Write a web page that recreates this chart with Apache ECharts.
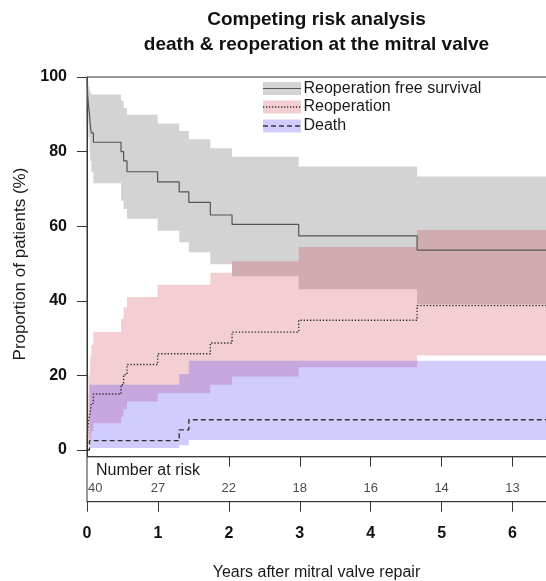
<!DOCTYPE html>
<html>
<head>
<meta charset="utf-8">
<script src="https://cdn.jsdelivr.net/npm/echarts@6/dist/echarts.min.js"></script>
<style>
  html, body { margin: 0; padding: 0; background: #fff; }
  #chart { width: 546px; height: 581px; }
</style>
</head>
<body>
<div id="chart"></div>
<script>
// Follow-up times (years) at which any of the estimates changes
var years = [0, 0.004, 0.01, 0.02, 0.035, 0.045, 0.06, 0.09, 0.48, 0.516, 0.564, 0.996, 1.30, 1.436, 1.739, 2.045, 2.985, 4.654, 6.5];

// Reoperation free survival (%) with confidence band
var survival   = [100, 97.5, 95, 92.5, 90, 87.5, 85, 82.5, 80, 77.5, 74.6, 71.9, 69.2, 66.4, 63.0, 60.5, 57.4, 53.6, 53.6];
var survivalHi = [100, 100, 99, 97.5, 96.5, 95.8, 95.3, 95.3, 93.6, 91.7, 89.9, 87.5, 85.5, 83.3, 80.9, 78.6, 76.0, 73.3, 73.3];
var survivalLo = [100, 92, 88, 84, 80, 77.5, 74.5, 71.5, 66.8, 64.6, 62.0, 58.8, 55.7, 53.0, 49.8, 46.6, 43.1, 39.0, 39.0];

// Cumulative incidence of reoperation (%)
var reop   = [0, 2.5, 5, 7.5, 7.5, 10, 12.5, 15, 17.5, 20.2, 22.9, 25.8, 25.8, 25.8, 28.7, 31.6, 34.8, 38.7, 38.7];
var reopHi = [0, 9, 15, 20, 21, 25, 28.2, 31.6, 35.2, 38.3, 41.0, 44.3, 44.3, 44.3, 47.5, 50.6, 54.4, 59.0, 59.0];
var reopLo = [0, 0.3, 0.8, 1.8, 1.8, 3.0, 5.0, 7.2, 9.0, 10.9, 13.0, 15.2, 15.2, 15.2, 17.5, 19.7, 22.2, 25.3, 25.3];

// Cumulative incidence of death (%)
var death   = [0, 0, 0, 0, 2.5, 2.5, 2.5, 2.5, 2.5, 2.5, 2.5, 2.5, 5.4, 8.1, 8.1, 8.1, 8.1, 8.1, 8.1];
var deathHi = [0, 0, 0, 0, 17.5, 17.5, 17.5, 17.5, 17.5, 17.5, 17.5, 17.5, 20.4, 23.9, 23.9, 23.9, 23.9, 23.9, 23.9];
var deathLo = [0, 0, 0, 0, 0.5, 0.5, 0.5, 0.5, 0.5, 0.5, 0.5, 0.5, 1.3, 2.7, 2.7, 2.7, 2.7, 2.7, 2.7];

// Number at risk table
var riskYears  = [0, 1, 2, 3, 4, 5, 6];
var riskCounts = [40, 27, 22, 18, 16, 14, 13];

// Axis ticks
var yTicks = [0, 20, 40, 60, 80, 100];
var xTicks = [0, 1, 2, 3, 4, 5, 6];
var riskInnerTicks = [2, 3, 4, 5, 6];

var FONT = '"Liberation Sans", Arial, Helvetica, sans-serif';
var GRAY_BAND = 'rgba(140,140,140,0.38)';
var PINK_BAND = 'rgba(200,35,60,0.22)';
var BLUE_BAND = 'rgba(60,40,250,0.24)';
var INK = '#1a1a1a';

function pairs(values) {
  return years.map(function (t, i) { return [t, values[i]]; });
}

// Step-shaped confidence band drawn as one polygon in data coordinates
function bandSeries(name, lo, hi, fill) {
  return {
    type: 'custom',
    name: name,
    xAxisIndex: 0,
    yAxisIndex: 0,
    silent: true,
    clip: true,
    data: [[0, 0]],
    renderItem: function (params, api) {
      var top = [], bottom = [];
      for (var i = 0; i < years.length; i++) {
        var t0 = years[i];
        var t1 = i + 1 < years.length ? years[i + 1] : years[i];
        top.push(api.coord([t0, hi[i]]), api.coord([t1, hi[i]]));
        bottom.push(api.coord([t0, lo[i]]), api.coord([t1, lo[i]]));
      }
      return {
        type: 'polygon',
        shape: { points: top.concat(bottom.reverse()) },
        style: { fill: fill, stroke: null }
      };
    }
  };
}

function stepLine(name, values, lineStyle) {
  return {
    type: 'line',
    name: name,
    xAxisIndex: 0,
    yAxisIndex: 0,
    step: 'end',
    symbol: 'none',
    silent: true,
    data: pairs(values),
    lineStyle: lineStyle,
    z: 5
  };
}

function legendRow(y, fill, lineType, label) {
  return [
    { type: 'rect', shape: { x: 263, y: y - 6.5, width: 38, height: 13 }, style: { fill: fill } },
    { type: 'line', shape: { x1: 263, y1: y, x2: 301, y2: y },
      style: { stroke: lineType === 'solid' ? '#555' : '#333', lineWidth: lineType === 'solid' ? 1.2 : 1.3,
               lineDash: lineType === 'dotted' ? [1.3, 1.7] : (lineType === 'dashed' ? [5, 3] : null) } },
    { type: 'text', x: 303.5, y: y, style: { text: label, font: '16px ' + FONT, fill: INK, verticalAlign: 'middle', align: 'left' } }
  ];
}

var chart = echarts.init(document.getElementById('chart'), null, { renderer: 'canvas' });

var option = {
  animation: false,
  backgroundColor: '#fff',
  grid: [
    { left: 87, top: 77, width: 461, height: 379.7, show: true, borderColor: '#333', borderWidth: 1,
      backgroundColor: 'transparent', containLabel: false, outerBoundsMode: 'none' },
    { left: 87, top: 456.7, width: 461, height: 45, show: true, borderColor: '#333', borderWidth: 1,
      backgroundColor: 'transparent', containLabel: false, outerBoundsMode: 'none' }
  ],
  xAxis: [
    { type: 'value', gridIndex: 0, min: 0, max: 6.5, show: false },
    { type: 'value', gridIndex: 1, min: 0, max: 6.5, position: 'bottom',
      axisLine: { show: true, lineStyle: { color: '#333', width: 1 } },
      axisTick: { show: true, inside: false, length: 10, customValues: xTicks, lineStyle: { color: '#333', width: 1 } },
      axisLabel: { show: true, customValues: xTicks, margin: 24, fontFamily: FONT, fontSize: 16, fontWeight: 'bold', color: '#111' },
      splitLine: { show: false } },
    { type: 'value', gridIndex: 1, min: 0, max: 6.5, position: 'top',
      axisLine: { show: false },
      axisTick: { show: true, inside: true, length: 10, customValues: riskInnerTicks, lineStyle: { color: '#333', width: 1 } },
      axisLabel: { show: false },
      splitLine: { show: false } }
  ],
  yAxis: [
    { type: 'value', gridIndex: 0, min: -1.8, max: 100,
      axisLine: { show: true, lineStyle: { color: '#333', width: 1 } },
      axisTick: { show: true, inside: false, length: 10, customValues: yTicks, lineStyle: { color: '#333', width: 1 } },
      axisLabel: { show: true, customValues: yTicks, margin: 20, fontFamily: FONT, fontSize: 16, fontWeight: 'bold', color: '#111' },
      splitLine: { show: false } },
    { type: 'value', gridIndex: 1, min: 0, max: 1, show: false }
  ],
  series: [
    bandSeries('Reoperation free survival band', survivalLo, survivalHi, GRAY_BAND),
    bandSeries('Reoperation band', reopLo, reopHi, PINK_BAND),
    bandSeries('Death band', deathLo, deathHi, BLUE_BAND),
    stepLine('Reoperation free survival', survival, { color: '#555', width: 1.2, type: 'solid' }),
    stepLine('Reoperation', reop, { color: '#333', width: 1.4, type: [1.4, 1.8] }),
    stepLine('Death', death, { color: '#333', width: 1.4, type: [5, 3] }),
    {
      type: 'scatter',
      name: 'Number at risk',
      xAxisIndex: 1,
      yAxisIndex: 1,
      silent: true,
      symbolSize: 1,
      itemStyle: { color: 'rgba(0,0,0,0)' },
      data: riskYears.map(function (t, i) {
        var item = { value: [t, 0.3] };
        if (i === 0) item.label = { align: 'left', offset: [1, 0] };
        return item;
      }),
      label: {
        show: true,
        position: 'inside',
        fontFamily: FONT,
        fontSize: 13,
        color: INK,
        textBorderWidth: 0,
        formatter: function (p) { return String(riskCounts[p.dataIndex]); }
      }
    }
  ],
  graphic: [
    { type: 'text', x: 316.5, y: 20, style: { text: 'Competing risk analysis', font: 'bold 19px ' + FONT, fill: '#111', align: 'center', verticalAlign: 'middle' } },
    { type: 'text', x: 316.5, y: 45, style: { text: 'death & reoperation at the mitral valve', font: 'bold 19px ' + FONT, fill: '#111', align: 'center', verticalAlign: 'middle' } },
    { type: 'text', x: 20, y: 264, rotation: Math.PI / 2, style: { text: 'Proportion of patients (%)', font: '17px ' + FONT, fill: INK, align: 'center', verticalAlign: 'middle' } },
    { type: 'text', x: 316.5, y: 573, style: { text: 'Years after mitral valve repair', font: '16px ' + FONT, fill: INK, align: 'center', verticalAlign: 'middle' } },
    { type: 'text', x: 96, y: 470.5, style: { text: 'Number at risk', font: '16px ' + FONT, fill: INK, align: 'left', verticalAlign: 'middle' } }
  ].concat(
    legendRow(88.5, GRAY_BAND, 'solid', 'Reoperation free survival'),
    legendRow(107, PINK_BAND, 'dotted', 'Reoperation'),
    legendRow(126, BLUE_BAND, 'dashed', 'Death')
  )
};

chart.setOption(option);
</script>
</body>
</html>
